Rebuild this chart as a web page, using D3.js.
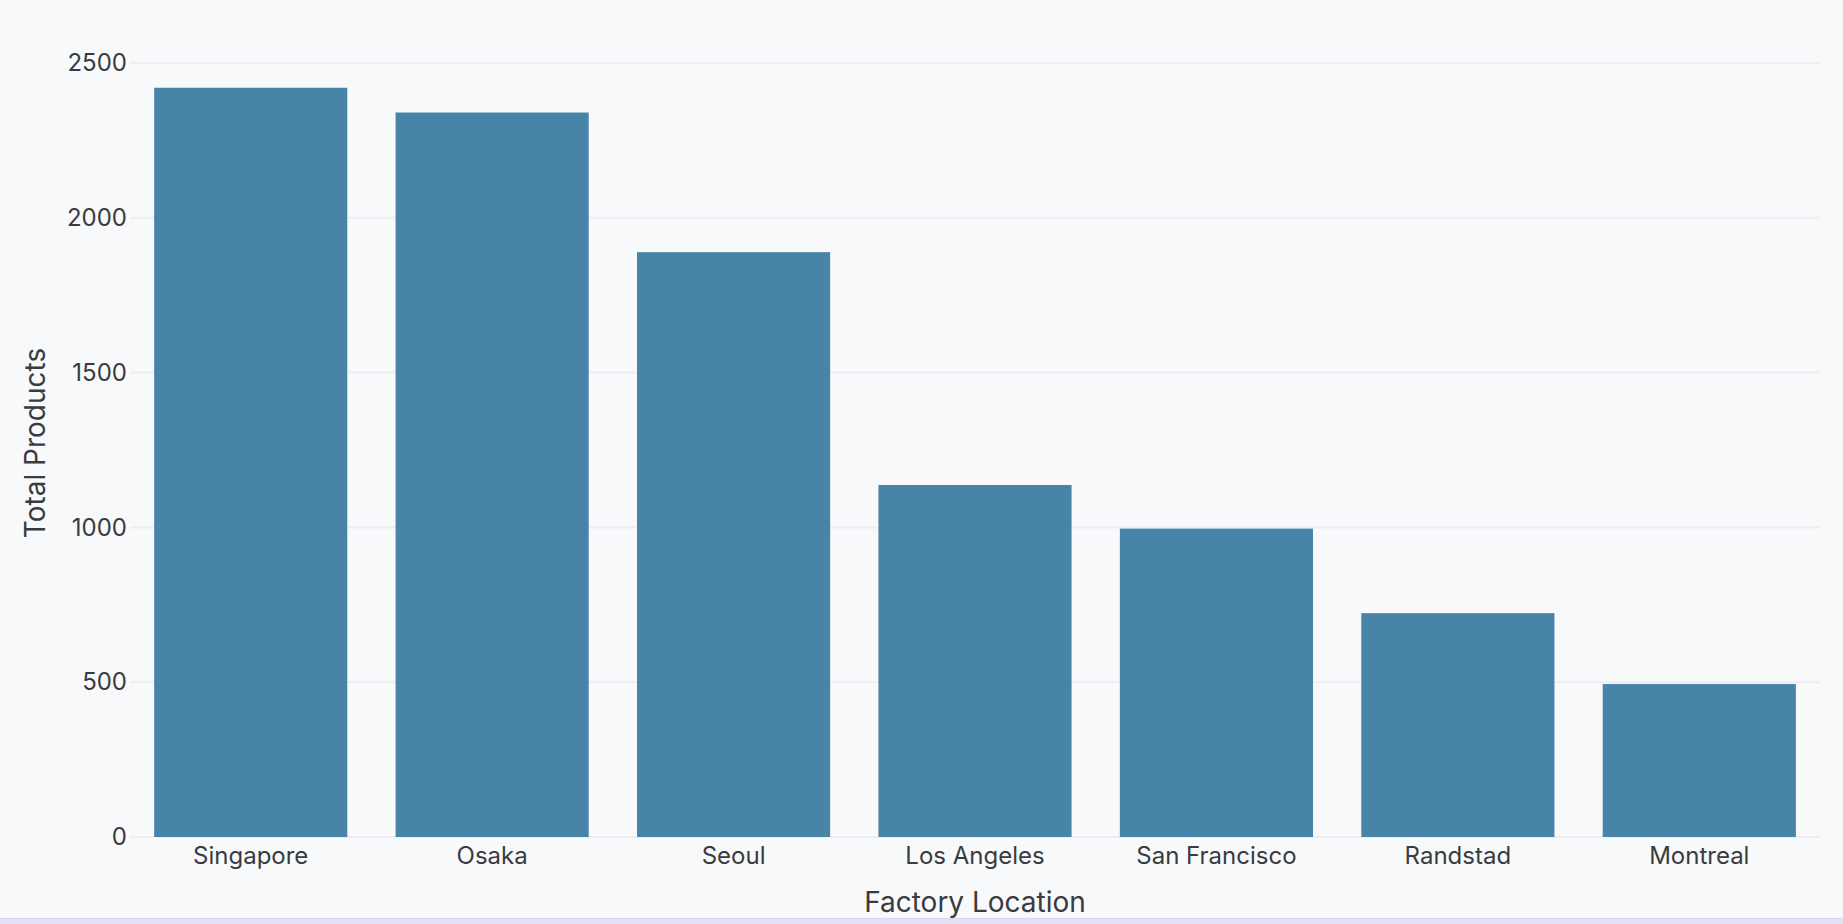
<!DOCTYPE html>
<html>
<head>
<meta charset="utf-8">
<script src="https://cdn.jsdelivr.net/npm/d3@7"></script>
<style>
  html, body { margin: 0; padding: 0; background: #f7f9fb; }
  body { width: 1843px; height: 924px; overflow: hidden; position: relative; }
  #chart { position: absolute; left: 0; top: 0; }
  .strip { position: absolute; left: 0; top: 918px; width: 1843px; height: 6px;
           background: #e4e1f3; border-top: 1px solid #d9d5ec; }
  text { font-family: Inter, "Noto Sans", sans-serif; fill: #3a3b3f; }
</style>
</head>
<body>
<div id="chart"></div>
<div class="strip"></div>
<script>
// chart data
var locations = ['Singapore', 'Osaka', 'Seoul', 'Los Angeles', 'San Francisco', 'Randstad', 'Montreal'];
var totals = [2420, 2340, 1889, 1137, 996, 723, 494];
var yTicks = [0, 500, 1000, 1500, 2000, 2500];

var w = 1843, h = 924;
var margin = {top: 63, right: 23, bottom: 87, left: 130};

var svg = d3.select('#chart')
  .append('svg')
  .attr('width', w)
  .attr('height', h);

// scales
var x = d3.scaleBand()
  .domain(locations)
  .range([margin.left, w - margin.right])
  .paddingInner(0.2)
  .paddingOuter(0.1);

var y = d3.scaleLinear()
  .domain([0, 2500])
  .range([h - margin.bottom, margin.top]);

// gridlines
svg.append('g')
  .attr('class', 'grid')
  .selectAll('line')
  .data(yTicks)
  .enter()
  .append('line')
  .attr('x1', margin.left)
  .attr('x2', w - margin.right)
  .attr('y1', function(d) { return y(d); })
  .attr('y2', function(d) { return y(d); })
  .attr('stroke', '#eceef1')
  .attr('stroke-width', 2);

// bars
svg.append('g')
  .selectAll('rect')
  .data(totals)
  .enter()
  .append('rect')
  .attr('x', function(d, i) { return x(locations[i]); })
  .attr('y', function(d) { return y(d); })
  .attr('width', x.bandwidth())
  .attr('height', function(d) { return y(0) - y(d); })
  .attr('fill', '#4884a8');

// y axis
var yAxis = svg.append('g')
  .attr('transform', 'translate(' + margin.left + ',0)')
  .call(d3.axisLeft(y).tickValues(yTicks).tickFormat(d3.format('d')).tickSize(0).tickPadding(3));
yAxis.select('.domain').remove();
yAxis.selectAll('text')
  .attr('font-size', 24)
  .attr('fill', '#3a3b3f');

// x axis
var xAxis = svg.append('g')
  .attr('transform', 'translate(0,' + y(0) + ')')
  .call(d3.axisBottom(x).tickSize(0).tickPadding(10));
xAxis.select('.domain').remove();
xAxis.selectAll('text')
  .attr('font-size', 24)
  .attr('fill', '#3a3b3f');

// axis titles
svg.append('text')
  .attr('x', (margin.left + w - margin.right) / 2)
  .attr('y', 912)
  .attr('text-anchor', 'middle')
  .attr('font-size', 28)
  .text('Factory Location');

svg.append('text')
  .attr('transform', 'translate(45,' + 443 + ') rotate(-90)')
  .attr('text-anchor', 'middle')
  .attr('font-size', 28)
  .text('Total Products');
</script>
</body>
</html>
